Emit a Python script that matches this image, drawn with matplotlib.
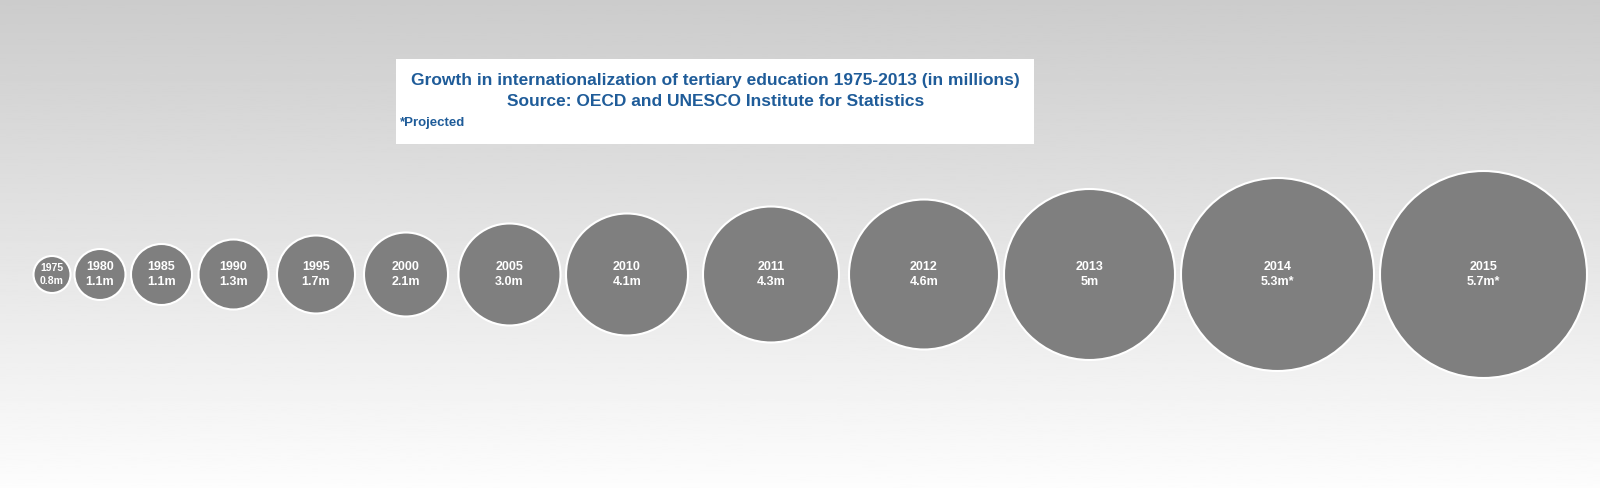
import numpy as np
import matplotlib
matplotlib.use('Agg')
import matplotlib.pyplot as plt
from matplotlib.patches import Circle, Rectangle

plt.rcParams['font.family'] = ['Liberation Sans', 'DejaVu Sans']

# data
years = ['1975', '1980', '1985', '1990', '1995', '2000', '2005',
         '2010', '2011', '2012', '2013', '2014', '2015']
students = [0.8, 1.1, 1.1, 1.3, 1.7, 2.1, 3.0, 4.1, 4.3, 4.6, 5, 5.3, 5.7]
value_labels = ['0.8m', '1.1m', '1.1m', '1.3m', '1.7m', '2.1m', '3.0m',
                '4.1m', '4.3m', '4.6m', '5m', '5.3m*', '5.7m*']

title1 = 'Growth in internationalization of tertiary education 1975-2013 (in millions)'
title2 = 'Source: OECD and UNESCO Institute for Statistics'
note = '*Projected'

# layout (pixels)
W, H = 1600, 488
centers_x = [52, 100, 161.5, 233.5, 316, 406, 509.5, 627, 771, 924, 1089.5, 1277.5, 1483.5]
radii = [18.5, 25.5, 30.5, 35, 39, 42, 51, 61, 68, 75, 85.5, 96.5, 103.5]
center_y = 274.5

fig = plt.figure(figsize=(W / 100, H / 100), dpi=100)
ax = fig.add_axes([0, 0, 1, 1])
ax.set_xlim(0, W)
ax.set_ylim(H, 0)
ax.axis('off')

# background gradient
grad = np.linspace(0.80, 0.99, 256).reshape(-1, 1)
ax.imshow(grad, cmap='gray', vmin=0, vmax=1, extent=[0, W, H, 0], aspect='auto', zorder=0)

# title box
ax.add_patch(Rectangle((396, 59), 638, 85, facecolor='white', edgecolor='none', zorder=1))
blue = '#1f5c99'
ax.text(715.5, 80, title1, ha='center', va='center', fontsize=12.5, fontweight='bold', color=blue, zorder=2)
ax.text(715.5, 101, title2, ha='center', va='center', fontsize=12.5, fontweight='bold', color=blue, zorder=2)
ax.text(400, 123, note, ha='left', va='center', fontsize=9.5, fontweight='bold', color=blue, zorder=2)

# bubbles
for i in range(len(years)):
    x, r = centers_x[i], radii[i]
    ax.add_patch(Circle((x, center_y), r, facecolor='#7f7f7f', edgecolor='white', linewidth=1.5, zorder=3))
    fs = 7.5 if r < 20 else 9
    dy = 6.5 if r < 20 else 7.5
    ax.text(x, center_y - dy, years[i], ha='center', va='center', fontsize=fs,
            fontweight='bold', color='white', zorder=4)
    ax.text(x, center_y + dy, value_labels[i], ha='center', va='center', fontsize=fs,
            fontweight='bold', color='white', zorder=4)

fig.savefig('out.png', dpi=100)
